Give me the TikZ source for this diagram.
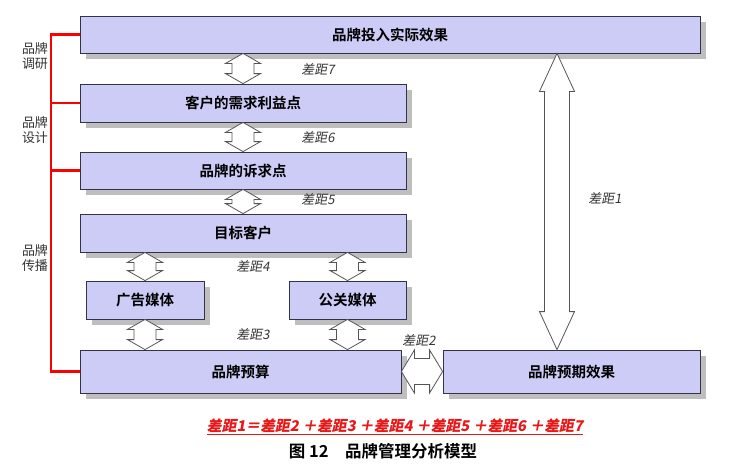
\documentclass[tikz,border=0pt]{standalone}
\usepackage{fontspec}
\usetikzlibrary{shadows,calc}
\newfontfamily\cjk[BoldFont={Noto Sans CJK SC Bold}]{Noto Sans CJK SC}
\newfontfamily\cjkslant[FakeSlant=0.18]{Noto Sans CJK SC}
\definecolor{boxfill}{RGB}{204,204,246}
\definecolor{boxline}{RGB}{50,50,72}
\definecolor{shade}{RGB}{190,190,190}
\definecolor{arrowline}{RGB}{85,85,85}
\definecolor{gapred}{RGB}{232,24,24}

% hollow double arrow, vertical: x from #1, tips at #2 and #3
\newcommand{\vgap}[6]{%
  \draw[gaparrow] let \p1=(#1), \p2=(#2), \p3=(#3) in
    (\x1,\y2) -- (\x1-#4,\y2-#6) -- (\x1-#5,\y2-#6) -- (\x1-#5,\y3+#6)
    -- (\x1-#4,\y3+#6) -- (\x1,\y3) -- (\x1+#4,\y3+#6) -- (\x1+#5,\y3+#6)
    -- (\x1+#5,\y2-#6) -- (\x1+#4,\y2-#6) -- cycle;}
% hollow double arrow, horizontal: tips at #1 and #2
\newcommand{\hgap}[5]{%
  \draw[gaparrow] let \p1=(#1), \p2=(#2) in
    (\x1,\y1) -- (\x1+#5,\y1+#3) -- (\x1+#5,\y1+#4) -- (\x2-#5,\y1+#4)
    -- (\x2-#5,\y1+#3) -- (\x2,\y1) -- (\x2-#5,\y1-#3) -- (\x2-#5,\y1-#4)
    -- (\x1+#5,\y1-#4) -- (\x1+#5,\y1-#3) -- cycle;}

\begin{document}
\begin{tikzpicture}[x=1pt, y=-1pt,
    box/.style={draw=boxline, fill=boxfill, line width=0.8pt, inner sep=0pt,
      drop shadow={shadow xshift=6pt, shadow yshift=-6pt, fill=shade, opacity=1},
      font=\cjk\bfseries\fontsize{14.5}{17}\selectfont},
    gaparrow/.style={draw=arrowline, fill=white, line width=0.8pt, line join=miter},
    gaplabel/.style={font=\cjkslant\fontsize{13}{15}\selectfont, text=black!80},
    stage/.style={font=\cjk\fontsize{13}{15.5}\selectfont, align=center, text=black!80},
    bracket/.style={draw=red, line width=2.2pt}]
    \useasboundingbox (0,0) rectangle (732,469);

    % Draw the boxes
    \node[box, minimum width=620pt, minimum height=37pt] (actual) at (390,34.5) {品牌投入实际效果};
    \node[box, minimum width=326pt, minimum height=38pt] (need) at (243,103) {客户的需求利益点};
    \node[box, minimum width=326pt, minimum height=37pt] (appeal) at (243,170.5) {品牌的诉求点};
    \node[box, minimum width=326pt, minimum height=38pt] (target) at (243,233) {目标客户};
    \node[box, minimum width=118pt, minimum height=38pt] (admedia) at (145,300) {广告媒体};
    \node[box, minimum width=117pt, minimum height=38pt] (prmedia) at (347.5,300) {公关媒体};
    \node[box, minimum width=321pt, minimum height=43pt] (budget) at (240.5,371.5) {品牌预算};
    \node[box, minimum width=257pt, minimum height=43pt] (expect) at (571.5,371.5) {品牌预期效果};

    % Draw the gap arrows
    \vgap{need.north}{actual.south}{need.north}{17.5pt}{11pt}{10pt}
    \vgap{appeal.north}{need.south}{appeal.north}{17.5pt}{11pt}{10pt}
    \vgap{target.north}{appeal.south}{target.north}{17.5pt}{11pt}{10pt}
    \vgap{admedia.north}{target.south}{admedia.north}{17.5pt}{11pt}{10pt}
    \vgap{prmedia.north}{target.south}{prmedia.north}{17.5pt}{11pt}{10pt}
    \vgap{admedia.south}{admedia.south}{admedia.south |- budget.north}{17.5pt}{11pt}{10pt}
    \vgap{prmedia.south}{prmedia.south}{prmedia.south |- budget.north}{17.5pt}{11pt}{10pt}
    \coordinate (gapone) at (557,0);
    \vgap{gapone}{actual.south}{expect.north}{17.5pt}{12.5pt}{38pt}
    \hgap{budget.east}{expect.west}{21.5pt}{13pt}{13pt}

    % Label the gaps
    \node[gaplabel] (gap7) at (318,69) {差距7};
    \node[gaplabel] (gap6) at (318,137) {差距6};
    \node[gaplabel] (gap5) at (318,199) {差距5};
    \node[gaplabel] (gap4) at (253,266) {差距4};
    \node[gaplabel] (gap3) at (253,334) {差距3};
    \node[gaplabel] (gap2) at (419,340) {差距2};
    \node[gaplabel] (gap1) at (605,198) {差距1};

    % Draw the red bracket and its stages
    \coordinate (spine) at (51,0);
    \draw[bracket] (actual.west) -- (spine |- actual.west) -- (spine |- budget.west) -- (budget.west);
    \draw[bracket] (need.west) -- (spine |- need.west);
    \draw[bracket] (appeal.west) -- (spine |- appeal.west);
    \node[stage] (research) at (35,56) {品牌\\调研};
    \node[stage] (design) at (35,130) {品牌\\设计};
    \node[stage] (spread) at (35,258) {品牌\\传播};

    % Formula and caption
    \node[font=\cjkslant\bfseries\fontsize{14.8}{17}\selectfont, text=gapred] (formula) at (395,427)
      {\underline{差距1＝差距2 ＋差距3 ＋差距4 ＋差距5 ＋差距6 ＋差距7}};
    \node[font=\cjk\bfseries\fontsize{16.5}{19}\selectfont] (caption) at (383,451) {图 12\quad 品牌管理分析模型};
\end{tikzpicture}
\end{document}
